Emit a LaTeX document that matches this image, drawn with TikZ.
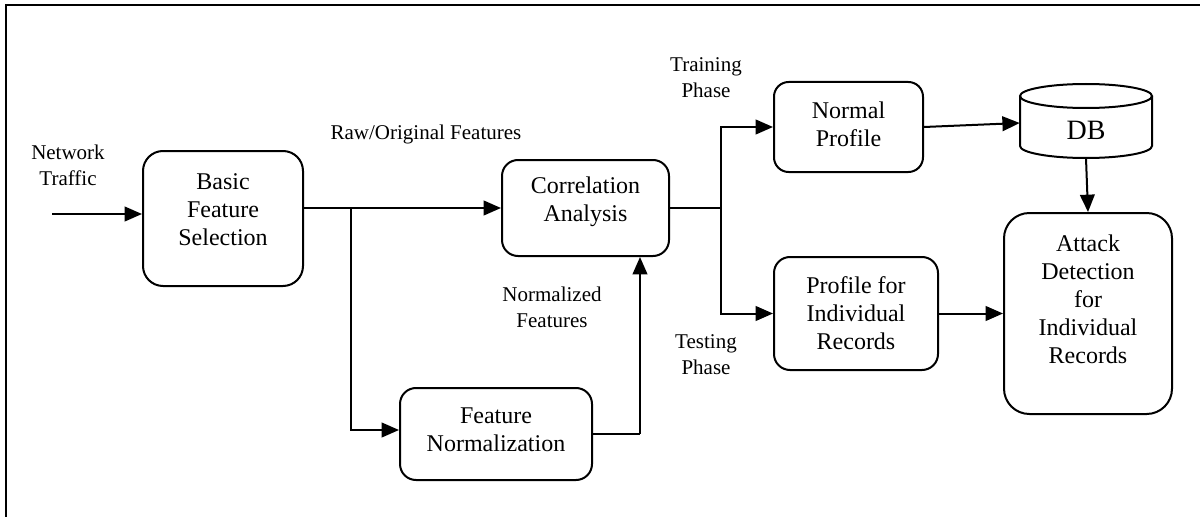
\documentclass[tikz,border=0pt]{standalone}
\usepackage{fontspec}
\setmainfont{Liberation Serif}
\usetikzlibrary{arrows.meta,positioning,calc}

\tikzset{
  x=0.75pt, y=-0.75pt,
  line/.style={line width=1.5pt},
  arr/.style={line width=1.5pt, -{Triangle[length=13pt,width=11pt]}},
  procbox/.style={draw, line width=1.5pt, rounded corners=#1, inner sep=0pt},
  procbox/.default=11pt,
  boxtext/.style={font=\fontsize{18}{21}\selectfont, align=center},
  lbl/.style={font=\fontsize{15.75}{19.5}\selectfont, align=center, inner sep=0pt},
}

\begin{document}
\begin{tikzpicture}
\useasboundingbox (0,0) rectangle (1200,517);

% open frame: left and top edges
\draw[line] (6,517) -- (6,5) -- (1200,5);

% processing boxes
\node[procbox=15pt, minimum width=120pt, minimum height=101.25pt,
      label={[boxtext, yshift=6.4pt]center:Basic\\Feature\\Selection}] (bfs) at (223,218.5) {};
\node[procbox=12pt, minimum width=125.25pt, minimum height=72pt,
      label={[boxtext, yshift=4.5pt]center:Correlation\\Analysis}] (ca) at (585.5,208) {};
\node[procbox=12pt, minimum width=144pt, minimum height=69pt,
      label={[boxtext, yshift=3.4pt]center:Feature\\Normalization}] (fn) at (496,434) {};
\node[procbox=11pt, minimum width=111.75pt, minimum height=67.5pt,
      label={[boxtext, yshift=2.2pt]center:Normal\\Profile}] (np) at (848.5,127) {};
\node[procbox=12pt, minimum width=123pt, minimum height=84.75pt,
      label={[boxtext]center:Profile for\\Individual\\Records}] (pir) at (856,313.5) {};
\node[procbox=19pt, minimum width=126pt, minimum height=150.75pt,
      label={[boxtext, yshift=10.5pt]center:Attack\\Detection\\for\\Individual\\Records}] (ad) at (1088,313.5) {};

% database cylinder: body and top ellipse, then its named node on top
\draw[line, fill=white] (1020,96) -- (1020,146) arc[start angle=180, end angle=360, x radius=49.5pt, y radius=9pt]
      -- (1152,96);
\draw[line] (1086,96) ellipse[x radius=49.5pt, y radius=9pt];
\node[inner sep=0pt, minimum width=99pt, minimum height=55.5pt,
      label={[font=\fontsize{21}{25}\selectfont, yshift=-6.75pt]center:DB}] (db) at (1086,121) {};

% free labels
\node[lbl] (ntlbl) at (68,165) {Network\\Traffic};
\node[lbl] (rawlbl) at (426,134) {Raw/Original Features};
\node[lbl] (trlbl) at (706,78) {Training\\Phase};
\node[lbl] (nflbl) at (552,307.5) {Normalized\\Features};
\node[lbl] (tslbl) at (706,354.5) {Testing\\Phase};

% junction points
\coordinate (nt) at (52,214);
\coordinate (br) at (351,208);
\coordinate (up) at (640,434);
\coordinate (sp) at (721,208);

% connectors
\draw[arr] (nt) -- (nt -| bfs.west);
\draw[arr] (ca.west -| bfs.east) -- (ca.west);
\draw[arr] (br) |- ([yshift=3pt]fn.west);
\draw[line] (fn.east) -- (up);
\draw[arr] (up) -- (up |- ca.south);
\draw[line] (ca.east) -- (sp);
\draw[arr] (sp) |- (np.west);
\draw[arr] (sp) |- (pir.west);
\draw[arr] (np.east) -- ([yshift=-1.5pt]db.west);
\draw[arr] (db.south) -- (ad.north);
\draw[arr] (pir.east) -- (pir.east -| ad.west);
\end{tikzpicture}
\end{document}
